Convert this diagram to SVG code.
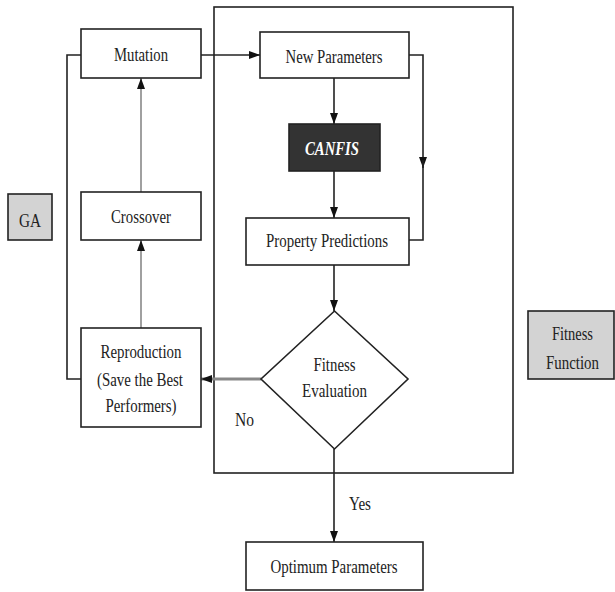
<svg xmlns="http://www.w3.org/2000/svg" width="615" height="592" viewBox="0 0 615 592">
<style>
.box{fill:#fff;stroke:#222;stroke-width:1.6}
.gbox{fill:#d3d3d3;stroke:#222;stroke-width:1.6}
.dbox{fill:#333;stroke:#222;stroke-width:1.6}
.t{font-family:"Liberation Serif","Times New Roman",serif;font-size:18px;fill:#222;text-anchor:middle}
.w{fill:#fff;font-weight:bold;font-style:italic}
.ln{fill:none;stroke:#222;stroke-width:1.6}
.gl{fill:none;stroke:#a0a0a0;stroke-width:2}
.gl2{fill:none;stroke:#888;stroke-width:3}
</style>
<defs>
<marker id="ah" viewBox="0 0 11 8" refX="11" refY="4" markerWidth="11" markerHeight="8" markerUnits="userSpaceOnUse" orient="auto">
<path d="M0,0 L11,4 L0,8 Z" fill="#111"/>
</marker>
</defs>
<rect width="615" height="592" fill="#fff"/>
<g id="fitness-frame"><rect x="214" y="7" width="299" height="466" class="ln"/></g>
<g id="connectors">
<path class="ln" d="M81,379 H67 V55 H81"/>
<path class="ln" d="M201,55 H260" marker-end="url(#ah)"/>
<path class="ln" d="M334,78 V124" marker-end="url(#ah)"/>
<path class="ln" d="M334,171 V218" marker-end="url(#ah)"/>
<path class="ln" d="M409,55 H423 V168" marker-end="url(#ah)"/>
<path class="ln" d="M423,160 V240 H409"/>
<path class="ln" d="M334,265 V311" marker-end="url(#ah)"/>
<path class="ln" d="M334,449 V542" marker-end="url(#ah)"/>
<path class="gl" d="M141,192 V78" marker-end="url(#ah)"/>
<path class="gl" d="M141,328 V240" marker-end="url(#ah)"/>
<path class="gl2" d="M261,379 H201" marker-end="url(#ah)"/>
</g>
<g id="ga"><rect x="8" y="194" width="44" height="46" class="gbox"/><text class="t" x="30" y="227" textLength="22" lengthAdjust="spacingAndGlyphs">GA</text></g>
<g id="mutation"><rect x="81" y="29" width="120" height="49" class="box"/><text class="t" x="141" y="61" textLength="54" lengthAdjust="spacingAndGlyphs">Mutation</text></g>
<g id="crossover"><rect x="81" y="192" width="120" height="48" class="box"/><text class="t" x="141" y="223" textLength="60" lengthAdjust="spacingAndGlyphs">Crossover</text></g>
<g id="reproduction"><rect x="81" y="328" width="120" height="99" class="box"/>
<text class="t" x="141" y="358" textLength="81" lengthAdjust="spacingAndGlyphs">Reproduction</text>
<text class="t" x="140" y="386" textLength="86" lengthAdjust="spacingAndGlyphs">(Save the Best</text>
<text class="t" x="141" y="412" textLength="71" lengthAdjust="spacingAndGlyphs">Performers)</text></g>
<g id="new-parameters"><rect x="260" y="32" width="149" height="46" class="box"/><text class="t" x="334" y="63" textLength="97" lengthAdjust="spacingAndGlyphs">New Parameters</text></g>
<g id="canfis"><rect x="289" y="124" width="91" height="47" class="dbox"/><text class="t w" x="332" y="155" textLength="54" lengthAdjust="spacingAndGlyphs">CANFIS</text></g>
<g id="property-predictions"><rect x="246" y="218" width="163" height="47" class="box"/><text class="t" x="327" y="247" textLength="122" lengthAdjust="spacingAndGlyphs">Property Predictions</text></g>
<g id="fitness-evaluation"><path d="M334.5,311 L408,379 L334.5,449 L261,379 Z" class="box"/>
<text class="t" x="334.5" y="371" textLength="42" lengthAdjust="spacingAndGlyphs">Fitness</text>
<text class="t" x="334.5" y="397" textLength="65" lengthAdjust="spacingAndGlyphs">Evaluation</text></g>
<g id="labels">
<text class="t" x="244.5" y="426" textLength="19" lengthAdjust="spacingAndGlyphs">No</text>
<text class="t" x="360" y="510" textLength="22" lengthAdjust="spacingAndGlyphs">Yes</text>
</g>
<g id="optimum-parameters"><rect x="246" y="542" width="177" height="48" class="box"/><text class="t" x="334" y="573" textLength="127" lengthAdjust="spacingAndGlyphs">Optimum Parameters</text></g>
<g id="fitness-function"><rect x="528" y="311" width="86" height="68" class="gbox"/>
<text class="t" x="572.5" y="340" textLength="41" lengthAdjust="spacingAndGlyphs">Fitness</text>
<text class="t" x="572.5" y="369" textLength="53" lengthAdjust="spacingAndGlyphs">Function</text></g>
</svg>
